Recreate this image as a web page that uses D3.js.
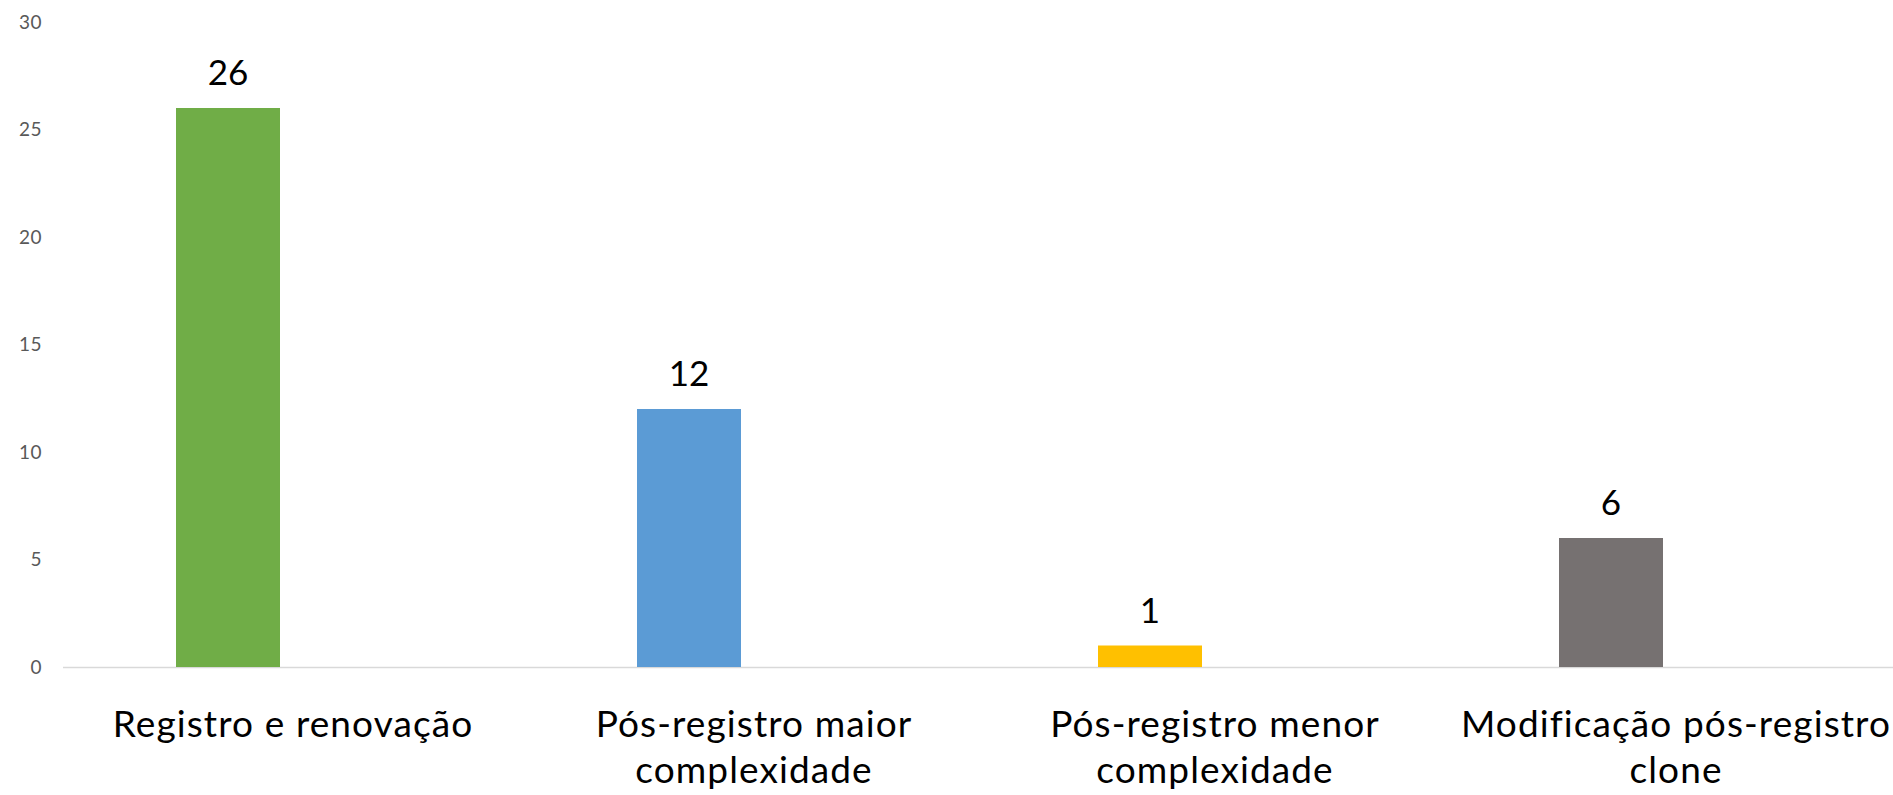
<!DOCTYPE html>
<html>
<head>
<meta charset="utf-8">
<script src="https://cdn.jsdelivr.net/npm/d3@7"></script>
<style>
  html, body { margin: 0; padding: 0; background: #ffffff; }
  svg { display: block; }
</style>
</head>
<body>
<svg id="chart" width="1893" height="795"></svg>
<script>
// Category labels (each entry is a list of wrapped lines)
const categories = [
  ["Registro e renovação"],
  ["Pós-registro maior", "complexidade"],
  ["Pós-registro menor", "complexidade"],
  ["Modificação pós-registro", "clone"]
];
const values = [26, 12, 1, 6];
const barColors = ["#70ad47", "#5b9bd5", "#ffc000", "#767171"];
const yTicks = [0, 5, 10, 15, 20, 25, 30];

const FONT = "Lato, 'Open Sans', sans-serif";
const svg = d3.select("#chart");

const y = d3.scaleLinear().domain([0, 30]).range([667, 22]);
const x = d3.scaleBand()
  .domain(d3.range(categories.length))
  .range([62.5, 1906.5]);

const barWidth = 104;
const barShift = -65; // bar sits left of the category centre

const center = i => x(i) + x.bandwidth() / 2;

// Y axis labels (no axis line, no gridlines)
const yAxis = d3.axisLeft(y).tickValues(yTicks).tickSize(0).tickPadding(0);
const yG = svg.append("g").attr("transform", "translate(42,0)").call(yAxis);
yG.select(".domain").remove();
yG.selectAll("text")
  .attr("fill", "#595959")
  .style("font-family", FONT)
  .style("font-size", "19px")
  .style("letter-spacing", "0.5px");

// Baseline
svg.append("line")
  .attr("x1", 63).attr("x2", 1893)
  .attr("y1", y(0) + 0.5).attr("y2", y(0) + 0.5)
  .attr("stroke", "#d9d9d9").attr("stroke-width", 1.5);

// Bars
svg.selectAll("rect.bar")
  .data(values)
  .join("rect")
  .attr("class", "bar")
  .attr("x", (d, i) => center(i) + barShift - barWidth / 2)
  .attr("width", barWidth)
  .attr("y", d => y(d))
  .attr("height", d => y(0) - y(d))
  .attr("fill", (d, i) => barColors[i]);

// Value labels
svg.selectAll("text.value")
  .data(values)
  .join("text")
  .attr("class", "value")
  .attr("x", (d, i) => center(i) + barShift)
  .attr("y", d => y(d) - 23)
  .attr("text-anchor", "middle")
  .attr("fill", "#000000")
  .style("font-family", FONT)
  .style("font-size", "35px")
  .text(d => d);

// Category labels
const catG = svg.selectAll("text.cat")
  .data(categories)
  .join("text")
  .attr("class", "cat")
  .attr("text-anchor", "middle")
  .attr("fill", "#000000")
  .style("font-family", FONT)
  .style("font-size", "37px")
  .style("letter-spacing", "1.1px");

catG.each(function (lines, i) {
  d3.select(this).selectAll("tspan")
    .data(lines)
    .join("tspan")
    .attr("x", center(i))
    .attr("y", (l, k) => 737 + k * 46)
    .text(l => l);
});
</script>
</body>
</html>
